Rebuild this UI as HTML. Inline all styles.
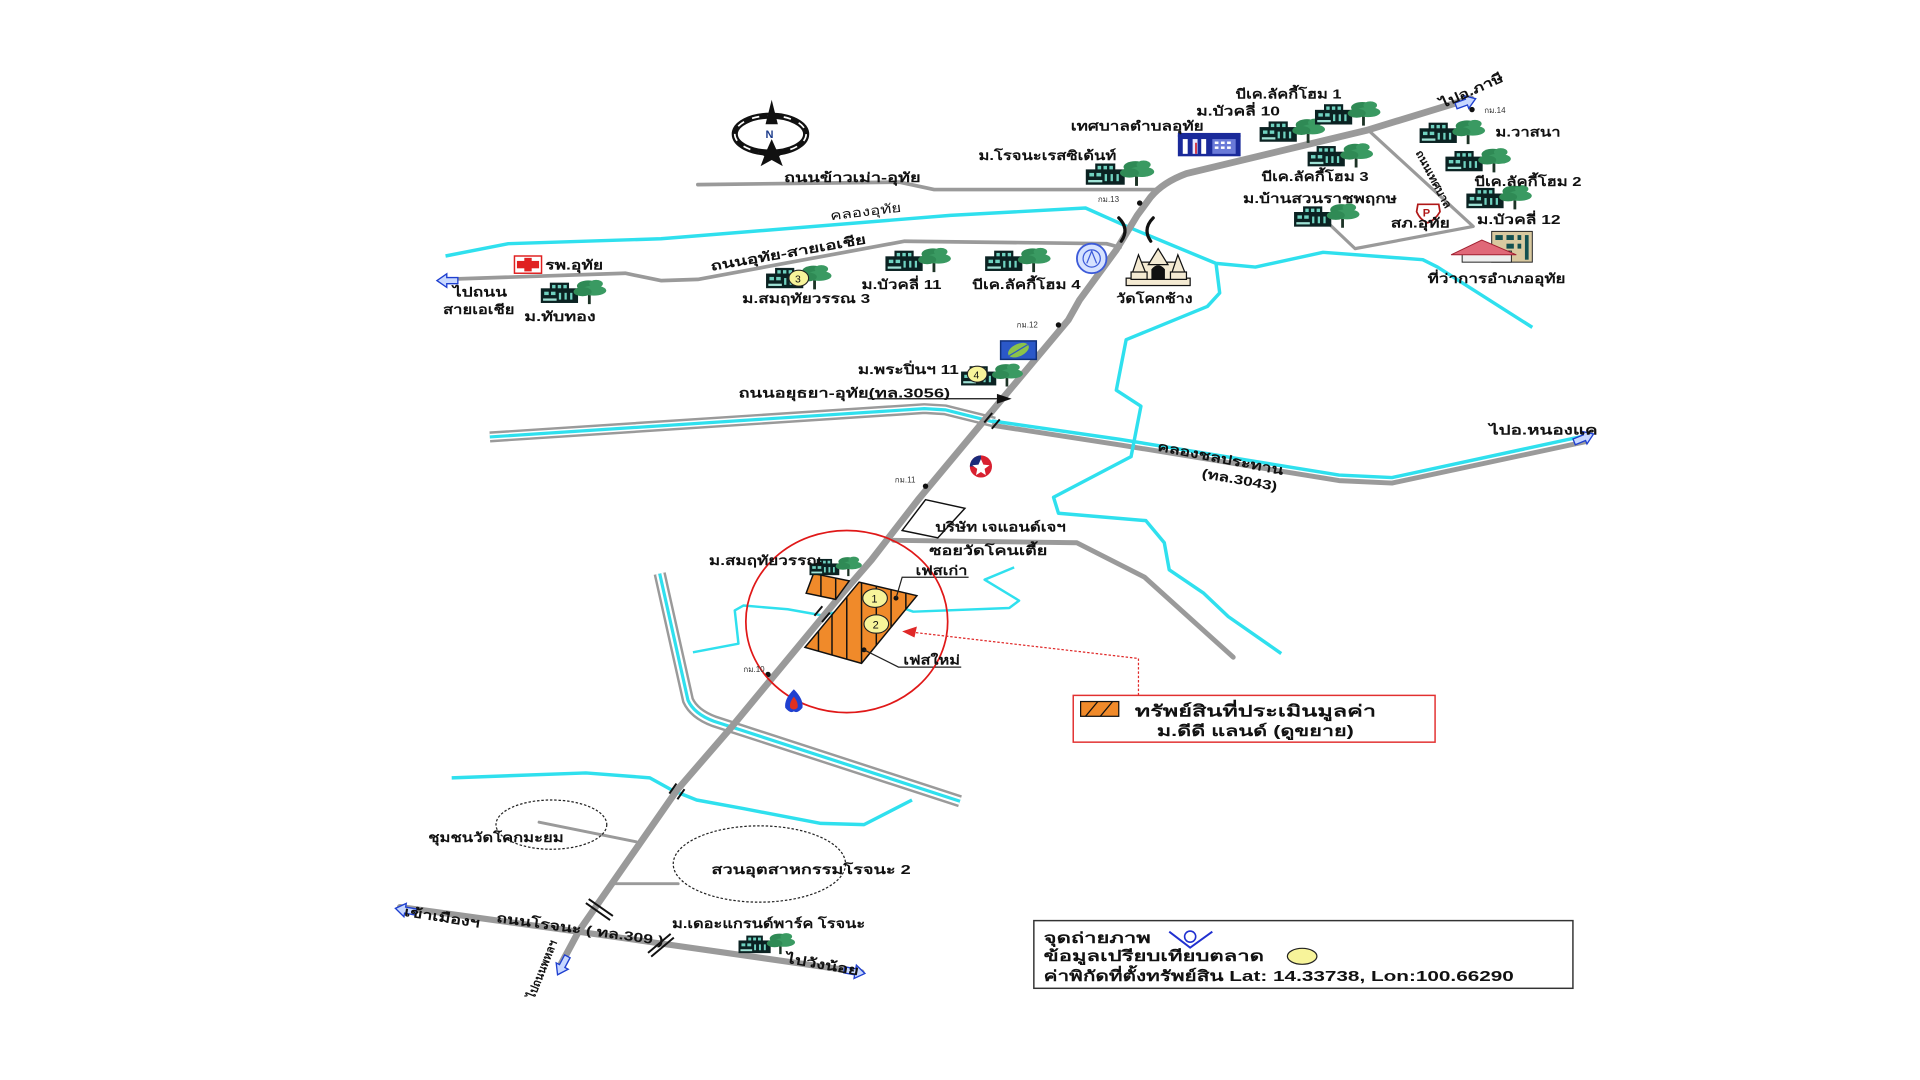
<!DOCTYPE html>
<html>
<head>
<meta charset="utf-8">
<style>
html,body{margin:0;padding:0;background:#fff;}
svg{display:block;}
text{font-family:"Liberation Sans","DejaVu Sans",sans-serif;font-weight:bold;fill:#111;}
.s{font-size:10.5px;}
.k{font-size:6.5px;font-weight:normal;fill:#333;}
</style>
</head>
<body>
<svg width="1920" height="1080" viewBox="0 0 1560 877.5" xmlns="http://www.w3.org/2000/svg">
<defs>
  <symbol id="ht" viewBox="0 0 60 24">
    <rect x="1" y="9" width="33" height="13" fill="#0b2222"/>
    <rect x="9" y="4" width="17" height="7" fill="#0b2222"/>
    <rect x="11" y="6" width="3" height="3" fill="#6fd2c0"/>
    <rect x="16" y="6" width="3" height="3" fill="#6fd2c0"/>
    <rect x="21" y="6" width="3" height="3" fill="#6fd2c0"/>
    <rect x="4" y="12" width="4" height="3" fill="#6fd2c0"/>
    <rect x="10" y="12" width="4" height="3" fill="#6fd2c0"/>
    <rect x="17" y="13" width="2" height="6" fill="#6fd2c0"/>
    <rect x="22" y="13" width="2" height="6" fill="#6fd2c0"/>
    <rect x="27" y="13" width="2" height="6" fill="#6fd2c0"/>
    <rect x="3" y="18" width="12" height="2" fill="#9fe3d6"/>
    <path d="M44,13 L44,23" stroke="#1d3326" stroke-width="2.5"/>
    <ellipse cx="43" cy="7" rx="10" ry="5" fill="#2f8a55"/>
    <ellipse cx="48" cy="11" rx="11" ry="4.5" fill="#3a9a62"/>
    <ellipse cx="38" cy="12" rx="8" ry="4" fill="#2f8a55"/>
    <ellipse cx="50" cy="5" rx="6" ry="3.5" fill="#3a9a62"/>
  </symbol>
  <path id="arr" d="M0,-2.5 L9,-2.5 L9,-5.5 L17,0 L9,5.5 L9,2.5 L0,2.5 Z"/>
  <clipPath id="pc1"><polygon points="661,466 690,472 679,487 655,482"/></clipPath>
  <clipPath id="pc2"><polygon points="698,473 745,484 700,539 654,526"/></clipPath>
</defs>

<rect width="1560" height="877.5" fill="#fff"/>

<!-- ===== Canals (double) ===== -->
<g fill="none" stroke-linejoin="round" stroke-linecap="butt">
  <path d="M398,355 L751,332 L768,333 L808,343" stroke="#9a9a9a" stroke-width="9"/>
  <path d="M398,355 L751,332 L768,333 L808,343" stroke="#fff" stroke-width="5"/>
  <path d="M398,355 L751,332 L768,333 L808,343" stroke="#2fe0ee" stroke-width="2.6"/>
  <path d="M806,345 L910,361 L1088,390 L1131,392 L1290,358" stroke="#9a9a9a" stroke-width="4" transform="translate(0,0.5)"/>
  <path d="M806,342 L910,357 L1088,386 L1131,388 L1293,353" stroke="#2fe0ee" stroke-width="2.8"/>
  <path d="M536,466 L559,569 Q564,580 580,586 L780,651" stroke="#9a9a9a" stroke-width="10"/>
  <path d="M536,466 L559,569 Q564,580 580,586 L780,651" stroke="#fff" stroke-width="6"/>
  <path d="M536,466 L559,569 Q564,580 580,586 L780,651" stroke="#2fe0ee" stroke-width="2.6"/>
</g>

<!-- ===== Cyan rivers ===== -->
<g fill="none" stroke="#2fe0ee" stroke-width="2.8" stroke-linejoin="round">
  <path d="M362,208 L413,198 L537,194 L772,175 L882,169 L909,181 L918,185 L988,214 L1020,217 L1075,205 L1156,211 L1168,217 L1245,266"/>
  <path d="M988,214 L991,238 L981,249 L915,276 L907,317 L927,330 L919,371 L856,404 L860,417 L931,423 L946,441 L950,463 L978,482 L998,501 L1041,531"/>
  <path d="M367,632 L476,628 L528,632 L546,642 L566,650 L604,657 L667,669 L702,670 L741,650"/>
  <path d="M563,530 L600,523 L597,496 L604,492 L640,495 L668,500 L690,495 L705,487 L722,490 L742,497 L820,494 L828,488 L800,471 L824,461" stroke-width="2"/>
</g>

<!-- ===== Roads ===== -->
<g fill="none" stroke="#9a9a9a" stroke-linejoin="round" stroke-linecap="round">
  <path d="M567,150 L731,148 L759,154 L940,154" stroke-width="3"/>
  <path d="M360,227 L508,222 L537,228 L567,227 L735,196 L899,198 L910,201" stroke-width="3"/>
  <path d="M1112,106 L1197,184 L1101,202 L1081,183" stroke-width="2.6"/>
  <path d="M726,439 L875,441 L930,469 L1002,534" stroke-width="4"/>
  <path d="M438,668 L517,684" stroke-width="2.4"/>
  <path d="M500,718 L551,718" stroke-width="2.4"/>
  <path d="M325,737 L470,757 L700,790" stroke-width="5"/>
  <path d="M1195,80 L1110,106 L964,141 Q945,148 935,160 L924,175 L907,203 L877,244 L868,260 L801,340 L746,406 L708,455 L682,485 L595,590 L550,642 L470,757 L455,785" stroke-width="5.5"/>
</g>

<!-- bridges -->
<g stroke="#111" fill="none" stroke-width="2.6" stroke-linecap="round">
  <path d="M909,177 Q918,186 911,196"/>
  <path d="M937,177 Q928,186 935,196"/>
</g>
<g stroke="#111" stroke-width="1.6">
  <g transform="translate(806,342) rotate(130)"><line x1="-5" y1="-4" x2="5" y2="-4"/><line x1="-5" y1="4" x2="5" y2="4"/></g>
  <g transform="translate(668,499) rotate(130)"><line x1="-5" y1="-4" x2="5" y2="-4"/><line x1="-5" y1="4" x2="5" y2="4"/></g>
  <g transform="translate(550,643) rotate(125)"><line x1="-5" y1="-4" x2="5" y2="-4"/><line x1="-5" y1="4" x2="5" y2="4"/></g>
  <g transform="translate(487,739) rotate(35)"><line x1="-12" y1="-2" x2="12" y2="-2"/><line x1="-12" y1="2" x2="12" y2="2"/></g>
  <g transform="translate(537,768) rotate(-40)"><line x1="-12" y1="-2" x2="12" y2="-2"/><line x1="-12" y1="2" x2="12" y2="2"/></g>
</g>

<!-- direction arrows -->
<g fill="#c8d8ff" stroke="#1e3fd0" stroke-width="1.1">
  <use href="#arr" transform="translate(1183,86) rotate(-20)"/>
  <use href="#arr" transform="translate(1279,359) rotate(-22)"/>
  <use href="#arr" transform="translate(372,228) rotate(180)"/>
  <use href="#arr" transform="translate(338,741) rotate(190)"/>
  <use href="#arr" transform="translate(686,788) rotate(10)"/>
  <use href="#arr" transform="translate(461,777) rotate(118)"/>
</g>

<!-- km dots -->
<g fill="#111">
  <circle cx="926" cy="165" r="2.2"/>
  <circle cx="1196" cy="89" r="2.2"/>
  <circle cx="860" cy="264" r="2.2"/>
  <circle cx="752" cy="395" r="2.2"/>
  <circle cx="624" cy="548" r="2.2"/>
</g>

<!-- company rect -->
<polygon points="752,406 784,413 762,437 733,431" fill="#fff" stroke="#111" stroke-width="1.2"/>

<!-- dashed circles -->
<ellipse cx="448" cy="670" rx="45" ry="20" fill="none" stroke="#222" stroke-width="1" stroke-dasharray="2,1.5"/>
<ellipse cx="617" cy="702" rx="70" ry="31" fill="none" stroke="#222" stroke-width="1" stroke-dasharray="2,1.5"/>

<!-- property parcels -->
<polygon points="661,466 690,472 679,487 655,482" fill="#f08a2a"/>
<g clip-path="url(#pc1)" stroke="#111" stroke-width="1.2">
  <line x1="667" y1="460" x2="667" y2="495"/><line x1="679" y1="460" x2="679" y2="495"/>
</g>
<polygon points="661,466 690,472 679,487 655,482" fill="none" stroke="#111" stroke-width="1.2"/>
<polygon points="698,473 745,484 700,539 654,526" fill="#f08a2a"/>
<g clip-path="url(#pc2)" stroke="#111" stroke-width="1.2">
  <line x1="665" y1="465" x2="665" y2="545"/>
  <line x1="676" y1="465" x2="676" y2="545"/>
  <line x1="688" y1="465" x2="688" y2="545"/>
  <line x1="700" y1="465" x2="700" y2="545"/>
  <line x1="712" y1="465" x2="712" y2="545"/>
  <line x1="724" y1="465" x2="724" y2="545"/>
  <line x1="736" y1="465" x2="736" y2="545"/>
</g>
<polygon points="698,473 745,484 700,539 654,526" fill="none" stroke="#111" stroke-width="1.2"/>
<g stroke="#222" stroke-width="0.9" fill="#f7f49a">
  <ellipse cx="711" cy="486" rx="10" ry="7.5"/>
  <ellipse cx="712" cy="507" rx="10" ry="7.5"/>
</g>
<text x="708" y="489.5" style="font-size:9px;font-weight:normal">1</text>
<text x="709" y="510.5" style="font-size:9px;font-weight:normal">2</text>
<g fill="#111"><circle cx="728" cy="486" r="2"/><circle cx="702" cy="528" r="2"/></g>
<path d="M728,486 L733,469 L787,469" fill="none" stroke="#222" stroke-width="1"/>
<path d="M702,528 L730,542 L781,542" fill="none" stroke="#222" stroke-width="1"/>

<!-- red ellipse -->
<ellipse cx="688" cy="505" rx="82" ry="74" fill="none" stroke="#e01818" stroke-width="1.4"/>

<!-- red dotted pointer -->
<path d="M925,565 L925,535 L744,514" fill="none" stroke="#e02828" stroke-width="1" stroke-dasharray="2,1.5"/>
<polygon points="733,513 745,509 743,518" fill="#e02828"/>

<!-- legend red box -->
<rect x="872" y="565" width="294" height="38" fill="#fff" stroke="#e23030" stroke-width="1.2"/>
<rect x="878" y="570" width="31" height="12" fill="#f08a2a" stroke="#111" stroke-width="1"/>
<line x1="882" y1="582" x2="892" y2="570" stroke="#111" stroke-width="1"/>
<line x1="894" y1="582" x2="904" y2="570" stroke="#111" stroke-width="1"/>
<text x="922" y="582" style="font-size:13px" textLength="196" lengthAdjust="spacingAndGlyphs">ทรัพย์สินที่ประเมินมูลค่า</text>
<text x="940" y="598" style="font-size:12px" textLength="160" lengthAdjust="spacingAndGlyphs">ม.ดีดี แลนด์ (ดูขยาย)</text>

<!-- legend bottom box -->
<rect x="840" y="748" width="438" height="55" fill="#fff" stroke="#333" stroke-width="1.2"/>
<text x="848" y="766" style="font-size:12px" textLength="87" lengthAdjust="spacingAndGlyphs">จุดถ่ายภาพ</text>
<path d="M950,757 L967,770 L985,757" fill="none" stroke="#2030d0" stroke-width="1.6"/>
<circle cx="967" cy="761" r="4.5" fill="none" stroke="#2030d0" stroke-width="1.3"/>
<text x="848" y="781" style="font-size:12px" textLength="179" lengthAdjust="spacingAndGlyphs">ข้อมูลเปรียบเทียบตลาด</text>
<ellipse cx="1058" cy="777" rx="12" ry="6.5" fill="#f7f49a" stroke="#222" stroke-width="1"/>
<text x="848" y="797" style="font-size:12px" textLength="382" lengthAdjust="spacingAndGlyphs">ค่าพิกัดที่ตั้งทรัพย์สิน Lat: 14.33738, Lon:100.66290</text>

<!-- ===== Compass ===== -->
<g>
  <ellipse cx="626" cy="109" rx="29" ry="15" fill="none" stroke="#111" stroke-width="5"/>
  <ellipse cx="626" cy="109" rx="29" ry="15" fill="none" stroke="#fff" stroke-width="1.4" stroke-dasharray="6,7"/>
  <polygon points="627,81 622,101 632,101" fill="#111"/>
  <polygon points="627,113 631,122 640,122 633,127 636,135 627,130 618,135 621,127 614,122 623,122" fill="#111"/>
  <text x="622" y="112" style="font-size:9px;fill:#1a3a8a">N</text>
</g>

<!-- ===== Icons ===== -->
<use href="#ht" x="880" y="129" width="60" height="23"/>
<use href="#ht" x="1020" y="95" width="60" height="22"/>
<use href="#ht" x="1065" y="81" width="60" height="22"/>
<use href="#ht" x="1060" y="115" width="58" height="22"/>
<use href="#ht" x="1048" y="164" width="60" height="22"/>
<use href="#ht" x="1150" y="96" width="60" height="22"/>
<use href="#ht" x="1172" y="119" width="58" height="22"/>
<use href="#ht" x="1188" y="149" width="60" height="22"/>
<use href="#ht" x="436" y="226" width="60" height="22"/>
<use href="#ht" x="619" y="214" width="60" height="22"/>
<use href="#ht" x="716" y="200" width="60" height="22"/>
<use href="#ht" x="797" y="200" width="60" height="22"/>
<use href="#ht" x="780" y="294" width="52" height="21"/>
<use href="#ht" x="657" y="451" width="44" height="18"/>
<use href="#ht" x="597" y="757" width="52" height="19"/>

<!-- numbered markers on icons -->
<g stroke="#222" stroke-width="0.9" fill="#f7f49a">
  <ellipse cx="649" cy="226" rx="8" ry="6.5"/>
  <ellipse cx="794" cy="304" rx="8" ry="6.5"/>
</g>
<text x="646" y="229.5" style="font-size:8.5px;font-weight:normal">3</text>
<text x="791" y="307.5" style="font-size:8.5px;font-weight:normal">4</text>

<!-- blue municipal building -->
<g>
  <rect x="957" y="110" width="51" height="17" fill="#1a2a9a"/>
  <rect x="957" y="108" width="51" height="3" fill="#1a2a9a"/>
  <rect x="961" y="113" width="4" height="12" fill="#fff"/>
  <rect x="969" y="113" width="4" height="12" fill="#e8e8ff"/>
  <rect x="971" y="116" width="1.5" height="9" fill="#d03040"/>
  <rect x="976" y="113" width="4" height="12" fill="#fff"/>
  <rect x="985" y="113" width="19" height="12" fill="#6a7ad8"/>
  <g fill="#fff"><rect x="987" y="115" width="3" height="2"/><rect x="992" y="115" width="3" height="2"/><rect x="997" y="115" width="3" height="2"/><rect x="987" y="119" width="3" height="2"/><rect x="992" y="119" width="3" height="2"/><rect x="997" y="119" width="3" height="2"/></g>
</g>

<!-- seal -->
<circle cx="887" cy="210" r="12" fill="#d6e2ff" stroke="#3d5bd9" stroke-width="1.5"/>
<circle cx="887" cy="210" r="7" fill="none" stroke="#3d5bd9" stroke-width="1"/>
<path d="M883,214 L887,204 L891,214" fill="none" stroke="#3d5bd9" stroke-width="1"/>

<!-- temple -->
<g stroke="#111" stroke-width="1">
  <rect x="915" y="226" width="52" height="6" fill="#f4ead2"/>
  <rect x="927" y="213" width="28" height="14" fill="#f4ead2"/>
  <path d="M941,202 L933,215 L949,215 Z" fill="#f4ead2"/>
  <path d="M925,207 L920,222 L931,222 Z" fill="#f4ead2"/>
  <path d="M957,207 L952,222 L963,222 Z" fill="#f4ead2"/>
  <rect x="919" y="221" width="13" height="6" fill="#f4ead2"/>
  <rect x="951" y="221" width="13" height="6" fill="#f4ead2"/>
  <path d="M936,227 L936,219 Q941,213 946,219 L946,227 Z" fill="#111"/>
</g>

<!-- district office -->
<g>
  <rect x="1212" y="188" width="33" height="25" fill="#d9c9a0" stroke="#222" stroke-width="0.8"/>
  <g fill="#135050"><rect x="1215" y="191" width="6" height="4"/><rect x="1224" y="191" width="6" height="4"/><rect x="1233" y="191" width="3" height="4"/><rect x="1239" y="191" width="3" height="20"/><rect x="1224" y="198" width="6" height="4"/><rect x="1233" y="198" width="3" height="4"/></g>
  <rect x="1188" y="204" width="40" height="9" fill="#eee" stroke="#222" stroke-width="0.8"/>
  <polygon points="1179,207 1204,195 1232,207" fill="#e06878" stroke="#a02030" stroke-width="0.8"/>
</g>

<!-- P sign -->
<path d="M1152,166 L1169,166 L1170,172 Q1166,179 1160,181 Q1154,179 1151,172 Z" fill="#fff" stroke="#b01818" stroke-width="1.4"/>
<text x="1156" y="176" style="font-size:9px;fill:#b01818">P</text>

<!-- hospital -->
<rect x="418" y="208" width="22" height="14" fill="#fff" stroke="#e02020" stroke-width="1.2"/>
<rect x="426" y="209.5" width="6" height="11" fill="#e02020"/>
<rect x="420" y="212" width="18" height="6" fill="#e02020"/>

<!-- BAAC logo -->
<rect x="813" y="277" width="29" height="15" fill="#2b58c8" stroke="#10307a" stroke-width="1.2"/>
<ellipse cx="827.5" cy="284.5" rx="9" ry="5" fill="#8bc34a" transform="rotate(-25 827.5 284.5)"/>
<path d="M820,289 L835,280" stroke="#2b58c8" stroke-width="1"/>

<!-- Caltex star -->
<circle cx="797" cy="379" r="9" fill="#d82030"/>
<path d="M797,370 A9,9 0 0,0 788,379 L797,379 Z" fill="#1a2a7a"/>
<polygon points="797,373 799,377.5 804,378 800,381 801,386 797,383.5 793,386 794,381 790,378 795,377.5" fill="#fff"/>

<!-- PTT -->
<path d="M645,560 Q653,568 652,575 Q648,580 645,578 Q642,580 638,575 Q637,568 645,560 Z" fill="#2040d0"/>
<path d="M645,566 Q649,571 648,575 Q645,578 642,575 Q641,571 645,566 Z" fill="#e03020"/>

<!-- ===== Labels ===== -->
<g class="s">
<text x="1004" y="80" textLength="86" lengthAdjust="spacingAndGlyphs" class="s">บีเค.ลัคกี้โฮม 1</text>
<text x="972" y="94" textLength="68" lengthAdjust="spacingAndGlyphs" class="s">ม.บัวคลี่ 10</text>
<text x="870" y="106" textLength="108" lengthAdjust="spacingAndGlyphs" class="s">เทศบาลตำบลอุทัย</text>
<text x="795" y="130" textLength="112" lengthAdjust="spacingAndGlyphs" class="s">ม.โรจนะเรสซิเด้นท์</text>
<text x="637" y="148" textLength="111" lengthAdjust="spacingAndGlyphs" class="s">ถนนข้าวเม่า-อุทัย</text>
<text x="892" y="164" class="k">กม.13</text>
<text x="1206" y="92" class="k">กม.14</text>
<text x="826" y="266" class="k">กม.12</text>
<text x="727" y="392" class="k">กม.11</text>
<text x="604" y="546" class="k">กม.10</text>
<text transform="translate(675,179) rotate(-7)" textLength="58" lengthAdjust="spacingAndGlyphs" class="s" style="font-weight:normal">คลองอุทัย</text>
<text transform="translate(578,220) rotate(-10)" textLength="128" lengthAdjust="spacingAndGlyphs" class="s">ถนนอุทัย-สายเอเชีย</text>
<text x="443" y="219" textLength="47" lengthAdjust="spacingAndGlyphs" class="s">รพ.อุทัย</text>
<text x="368" y="241" textLength="44" lengthAdjust="spacingAndGlyphs" class="s">ไปถนน</text>
<text x="360" y="255" textLength="58" lengthAdjust="spacingAndGlyphs" class="s">สายเอเชีย</text>
<text x="426" y="261" textLength="58" lengthAdjust="spacingAndGlyphs" class="s">ม.ทับทอง</text>
<text x="603" y="246" textLength="104" lengthAdjust="spacingAndGlyphs" class="s">ม.สมฤทัยวรรณ 3</text>
<text x="700" y="235" textLength="65" lengthAdjust="spacingAndGlyphs" class="s">ม.บัวคลี่ 11</text>
<text x="790" y="235" textLength="88" lengthAdjust="spacingAndGlyphs" class="s">บีเค.ลัคกี้โฮม 4</text>
<text x="907" y="246" textLength="62" lengthAdjust="spacingAndGlyphs" class="s">วัดโคกช้าง</text>
<text x="1025" y="147" textLength="87" lengthAdjust="spacingAndGlyphs" class="s">บีเค.ลัคกี้โฮม 3</text>
<text x="1010" y="165" textLength="125" lengthAdjust="spacingAndGlyphs" class="s">ม.บ้านสวนราชพฤกษ</text>
<text x="1130" y="185" textLength="48" lengthAdjust="spacingAndGlyphs" class="s">สภ.อุทัย</text>
<text x="1215" y="111" textLength="53" lengthAdjust="spacingAndGlyphs" class="s">ม.วาสนา</text>
<text x="1198" y="151" textLength="87" lengthAdjust="spacingAndGlyphs" class="s">บีเค.ลัคกี้โฮม 2</text>
<text x="1200" y="182" textLength="68" lengthAdjust="spacingAndGlyphs" class="s">ม.บัวคลี่ 12</text>
<text x="1160" y="230" textLength="112" lengthAdjust="spacingAndGlyphs" class="s">ที่ว่าการอำเภออุทัย</text>
<text transform="translate(1172,88) rotate(-24)" textLength="55" lengthAdjust="spacingAndGlyphs" class="s">ไปอ.ภาษี</text>
<text transform="translate(1150,124) rotate(62)" textLength="52" lengthAdjust="spacingAndGlyphs" class="s" style="font-size:9px">ถนนเทศบาล</text>
<text x="697" y="304" textLength="82" lengthAdjust="spacingAndGlyphs" class="s">ม.พระปิ่นฯ 11</text>
<text x="600" y="323" textLength="172" lengthAdjust="spacingAndGlyphs" class="s">ถนนอยุธยา-อุทัย(ทล.3056)</text>
<text transform="translate(940,366) rotate(11)" textLength="104" lengthAdjust="spacingAndGlyphs" class="s">คลองชลประทาน</text>
<text transform="translate(976,388) rotate(10)" textLength="62" lengthAdjust="spacingAndGlyphs" class="s">(ทล.3043)</text>
<text x="1210" y="353" textLength="88" lengthAdjust="spacingAndGlyphs" class="s">ไปอ.หนองแค</text>
<text x="760" y="432" textLength="106" lengthAdjust="spacingAndGlyphs" class="s">บริษัท เจแอนด์เจฯ</text>
<text x="755" y="451" textLength="96" lengthAdjust="spacingAndGlyphs" class="s">ซอยวัดโคนเตี้ย</text>
<text x="576" y="459" textLength="92" lengthAdjust="spacingAndGlyphs" class="s">ม.สมฤทัยวรรณ</text>
<text x="744" y="467" textLength="42" lengthAdjust="spacingAndGlyphs" class="s">เฟสเก่า</text>
<text x="734" y="540" textLength="46" lengthAdjust="spacingAndGlyphs" class="s">เฟสใหม่</text>
<text x="348" y="684" textLength="110" lengthAdjust="spacingAndGlyphs" class="s">ชุมชนวัดโคกมะยม</text>
<text x="578" y="710" textLength="162" lengthAdjust="spacingAndGlyphs" class="s">สวนอุตสาหกรรมโรจนะ 2</text>
<text x="546" y="754" textLength="157" lengthAdjust="spacingAndGlyphs" class="s">ม.เดอะแกรนด์พาร์ค โรจนะ</text>
<text transform="translate(328,744) rotate(9)" textLength="62" lengthAdjust="spacingAndGlyphs" class="s">เข้าเมืองฯ</text>
<text transform="translate(403,749) rotate(8)" textLength="137" lengthAdjust="spacingAndGlyphs" class="s">ถนนโรจนะ ( ทล.309 )</text>
<text transform="translate(638,782) rotate(10)" textLength="60" lengthAdjust="spacingAndGlyphs" class="s">ไปวังน้อย</text>
<text transform="translate(434,812) rotate(-68)" textLength="50" lengthAdjust="spacingAndGlyphs" class="s" style="font-size:9.5px">ไปถนนพหลฯ</text>
</g>

<!-- road arrow for ทล.3056 -->
<line x1="705" y1="324" x2="812" y2="324" stroke="#111" stroke-width="1"/>
<polygon points="822,324 810,320 810,328" fill="#111"/>
</svg>
</body>
</html>
